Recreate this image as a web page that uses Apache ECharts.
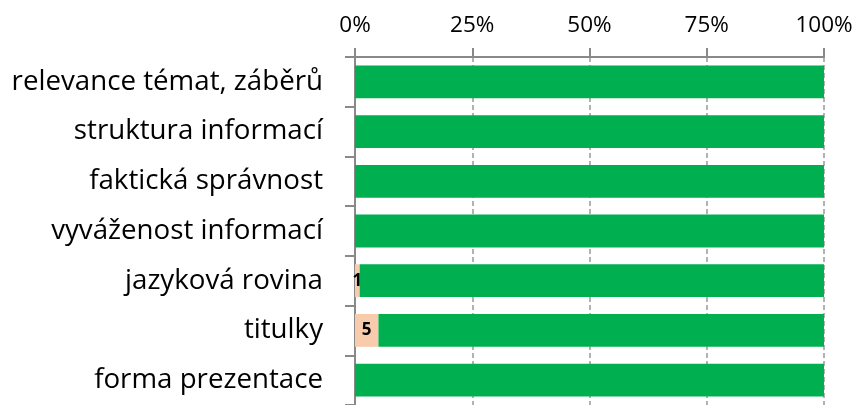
<!DOCTYPE html>
<html>
<head>
<meta charset="utf-8">
<script src="https://cdn.jsdelivr.net/npm/echarts@6/dist/echarts.min.js"></script>
<style>
  html, body { margin: 0; padding: 0; background: #fff; }
  #myChart { width: 858px; height: 405px; }
</style>
</head>
<body>
<div id="myChart"></div>
<script>
// categories top to bottom
var categories = [
  "relevance témat, záběrů",
  "struktura informací",
  "faktická správnost",
  "vyváženost informací",
  "jazyková rovina",
  "titulky",
  "forma prezentace"
];
// share of answers (%)
var positive = [100, 100, 100, 100, 99, 95, 100];
var negative = [0, 0, 0, 0, 1, 5, 0];
var tickLabels = ["0%", "25%", "50%", "75%", "100%"];

var fontName = "Open Sans";
var chart = echarts.init(document.getElementById("myChart"));
chart.setOption({
  animation: false,
  grid: { left: 355, right: 34, top: 57, height: 352 },
  xAxis: {
    type: "value",
    position: "top",
    min: 0,
    max: 100,
    interval: 25,
    axisLine: { show: true, lineStyle: { color: "#898989", width: 2 } },
    axisTick: { show: true, length: 9, lineStyle: { color: "#898989", width: 2 } },
    axisLabel: {
      color: "#000",
      fontFamily: fontName,
      fontSize: 22.5,
      margin: 20,
      formatter: function (v) { return tickLabels[v / 25]; }
    },
    splitLine: { show: true, lineStyle: { color: "#999", type: [5, 3], width: 1.5 } }
  },
  yAxis: {
    type: "category",
    inverse: true,
    data: categories,
    axisLine: { show: true, lineStyle: { color: "#898989", width: 2 } },
    axisTick: { show: true, length: 10, lineStyle: { color: "#898989", width: 2 } },
    axisLabel: { color: "#000", fontFamily: fontName, fontSize: 27.7, margin: 32 }
  },
  series: [
    {
      name: "ne",
      type: "bar",
      stack: "total",
      barCategoryGap: "34%",
      itemStyle: { color: "#F8CBAD" },
      label: {
        show: true,
        position: "inside",
        color: "#000",
        fontWeight: "bold",
        fontFamily: fontName,
        fontSize: 17,
        formatter: function (p) { return p.value > 0 ? p.value : ""; }
      },
      data: negative
    },
    {
      name: "ano",
      type: "bar",
      stack: "total",
      barCategoryGap: "34%",
      itemStyle: { color: "#00B050" },
      data: positive
    }
  ]
});
</script>
</body>
</html>
